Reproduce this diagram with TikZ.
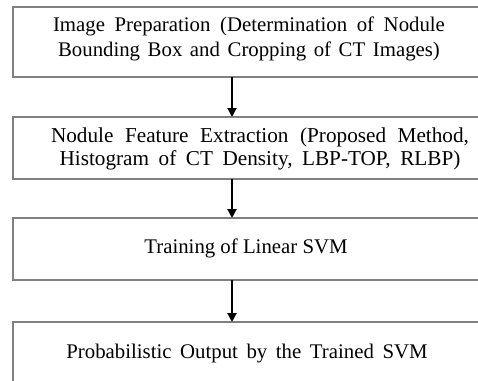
\documentclass[tikz,border=0pt]{standalone}
\usepackage{fontspec}
\setmainfont{Liberation Serif}
\usetikzlibrary{arrows.meta}
\newcommand{\wordgap}[1]{\spaceskip=#1\relax}

\begin{document}
\begin{tikzpicture}[x=0.5pt,y=-0.5pt,
    stagebox/.style={draw=black!50, line width=0.75pt, inner sep=0pt, outer sep=0pt,
      minimum width=237pt, anchor=north west},
    stagetext/.style={align=center, inner sep=0pt, font=\fontsize{10.4}{12.5}\selectfont},
    flow/.style={line width=1pt, -{Triangle[width=4.5pt,length=4.5pt]}}]
					\useasboundingbox (0,0) rectangle (478,381);
					\clip (0,0) rectangle (478,381);

					% Stages of the pipeline
					\node[stagebox, minimum height=35pt] (prep) at (13,7) {};
					\node[stagebox, minimum height=31pt] (feat) at (13,117) {};
					\node[stagebox, minimum height=31pt] (train) at (13,218) {};
					\node[stagebox, minimum height=40pt] (out) at (13,322) {};

					\node[stagetext] (preptext) at (249,39)
    			{{\wordgap{4.8pt}Image Preparation (Determination of Nodule}\\ {\wordgap{3.8pt}Bounding Box and Cropping of CT Images)}};
					\node[stagetext, font=\fontsize{10.6}{11.4}\selectfont] (feattext) at (260,149)
    			{{\wordgap{5.8pt}Nodule Feature Extraction (Proposed Method,}\\ {\wordgap{4.8pt}Histogram of CT Density, LBP-TOP, RLBP)}};
					\node[stagetext] (traintext) at (246,248) {Training of Linear SVM};
					\node[stagetext] (outtext) at (247,354) {\wordgap{4.3pt}Probabilistic Output by the Trained SVM};

					% Arrows between the stages
					\coordinate (ax) at (232,0);
					\draw[flow] (prep.south -| ax) -- (feat.north -| ax);
					\draw[flow] (feat.south -| ax) -- (train.north -| ax);
					\draw[flow] (train.south -| ax) -- (out.north -| ax);
\end{tikzpicture}
\end{document}
